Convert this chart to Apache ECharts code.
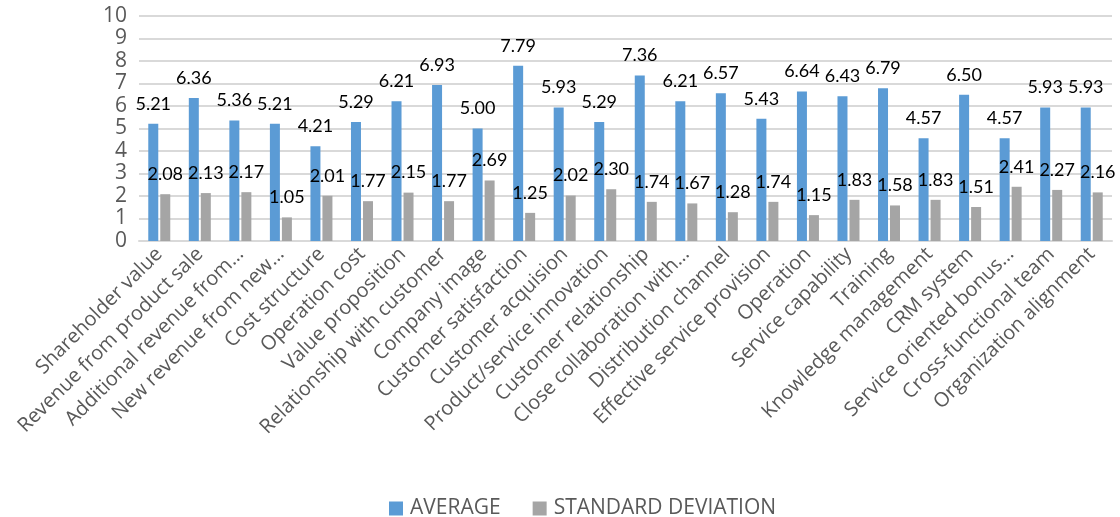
<!DOCTYPE html>
<html>
<head>
<meta charset="utf-8">
<script src="https://cdn.jsdelivr.net/npm/echarts@6/dist/echarts.min.js"></script>
<style>html,body{margin:0;padding:0;background:#fff}#c{width:1120px;height:517px}</style>
</head>
<body>
<div id="c"></div>
<script>
var categories = ["Shareholder value","Revenue from product sale","Additional revenue from…","New revenue from new…","Cost structure","Operation cost","Value proposition","Relationship with customer","Company image","Customer satisfaction","Customer acquision","Product/service innovation","Customer relationship","Close collaboration with…","Distribution channel","Effective service provision","Operation","Service capability","Training","Knowledge management","CRM system","Service oriented bonus…","Cross-functional team","Organization alignment"];
var average = [5.21,6.36,5.36,5.21,4.21,5.29,6.21,6.93,5.00,7.79,5.93,5.29,7.36,6.21,6.57,5.43,6.64,6.43,6.79,4.57,6.50,4.57,5.93,5.93];
var stdDev = [2.08,2.13,2.17,1.05,2.01,1.77,2.15,1.77,2.69,1.25,2.02,2.30,1.74,1.67,1.28,1.74,1.15,1.83,1.58,1.83,1.51,2.41,2.27,2.16];
var yTicks = [0,1,2,3,4,5,6,7,8,9,10];

var FONT = "'Open Sans', sans-serif";
var chart = echarts.init(document.getElementById('c'));
var lbl = {show:true, position:'top', distance:11, color:'#000', fontFamily:"Lato, sans-serif", fontSize:18,
  formatter:function(p){return p.value.toFixed(2);}};
chart.setOption({
  animation:false,
  grid:{left:139, right:8, top:16, bottom:276},
  legend:{top:493, left:384, itemWidth:14, itemHeight:14, itemGap:32,
    textStyle:{color:'#595959', fontFamily:FONT, fontSize:21, padding:[0,0,0,2]},
    data:[{name:'AVERAGE', icon:'rect'},{name:'STANDARD DEVIATION', icon:'rect'}]},
  xAxis:{type:'category', data:categories,
    axisLine:{show:true, lineStyle:{color:'#d9d9d9', width:2}},
    axisTick:{show:false},
    axisLabel:{rotate:45, interval:0, color:'#595959', fontFamily:FONT, fontSize:20, margin:10}},
  yAxis:{type:'value', min:yTicks[0], max:yTicks[yTicks.length-1], interval:1,
    axisLine:{show:false}, axisTick:{show:false},
    axisLabel:{color:'#595959', fontFamily:FONT, fontSize:21, margin:12},
    splitLine:{lineStyle:{color:'#d9d9d9', width:2}}},
  series:[
    {name:'AVERAGE', type:'bar', data:average, barWidth:10, barGap:'20%',
      itemStyle:{color:'#5B9BD5'}, label:lbl},
    {name:'STANDARD DEVIATION', type:'bar', data:stdDev, barWidth:10,
      itemStyle:{color:'#A5A5A5'}, label:lbl}
  ]
});
</script>
</body>
</html>
